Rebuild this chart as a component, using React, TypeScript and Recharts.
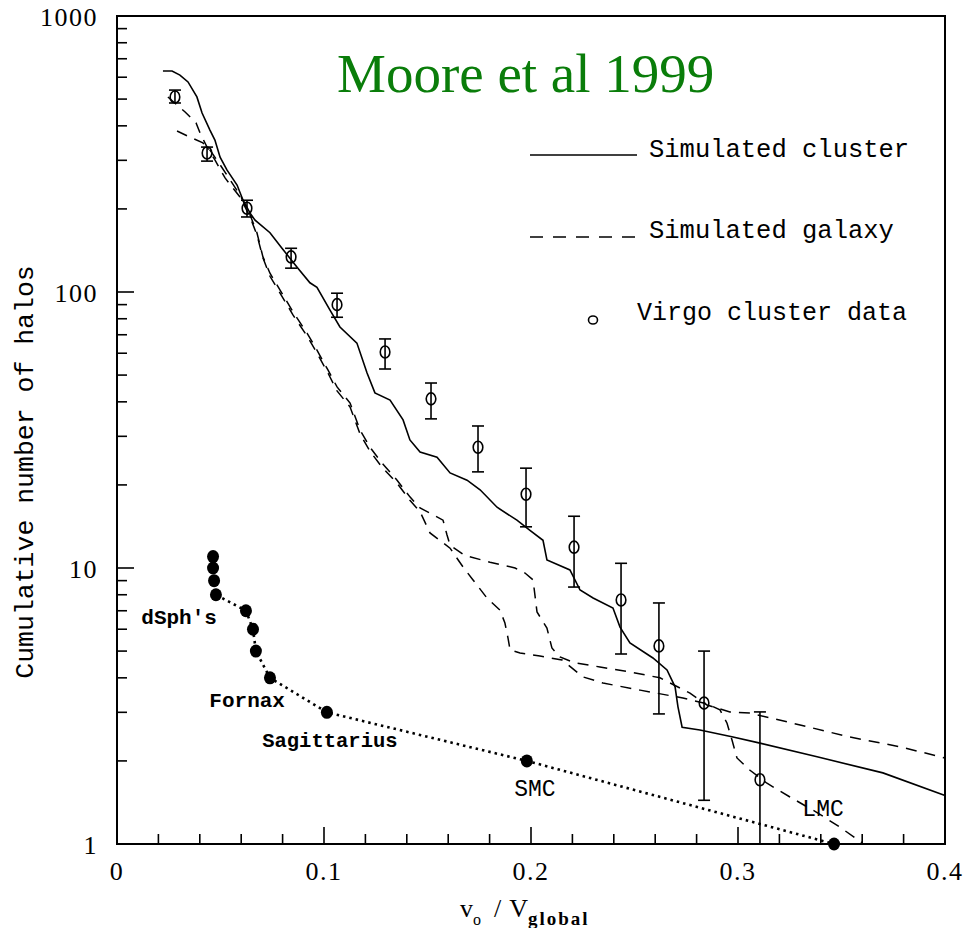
import React from 'react';
import { ComposedChart, Line, Scatter, XAxis, YAxis, ErrorBar, ReferenceArea, LabelList } from 'recharts';

// ---------- data ----------
const clusterX = [
  0.0222, 0.0266, 0.0304, 0.0343, 0.0386, 0.0411, 0.0449, 0.0473, 0.0498, 0.0531,
  0.0580, 0.0609, 0.0643, 0.0667, 0.0739, 0.0797, 0.0870, 0.0932, 0.0966, 0.1029,
  0.1077, 0.1159, 0.1208, 0.1246, 0.1319, 0.1382, 0.1415, 0.1464, 0.1546, 0.1609,
  0.1691, 0.1754, 0.1836, 0.1932, 0.1995, 0.2058, 0.2077, 0.2188, 0.2237, 0.2300,
  0.2396, 0.2430, 0.2478, 0.2589, 0.2657, 0.2696, 0.2710, 0.2730, 0.2816, 0.2976,
  0.3106, 0.3382, 0.3700, 0.4000,
];
const clusterY = [
  632, 632, 611, 577, 509, 445, 386, 355, 308, 277,
  244, 215, 193, 182, 164, 144, 123, 108, 104, 86,
  74.7, 65.3, 50.9, 43.1, 40.6, 34.4, 29.1, 26.3, 25.2, 22.1,
  20.8, 19.2, 16.6, 14.9, 13.7, 12.6, 10.7, 9.84, 8.32, 7.79,
  7.16, 6.11, 5.35, 4.72, 4.27, 3.71, 3.14, 2.65, 2.59, 2.44,
  2.32, 2.07, 1.81, 1.50,
];

const galaxyAX = [
  0.0290, 0.0353, 0.0415, 0.0449, 0.0498, 0.0546, 0.0594, 0.0643, 0.0676, 0.0705,
  0.0739, 0.0802, 0.0850, 0.0918, 0.0966, 0.1019, 0.1063, 0.1126, 0.1174, 0.1222,
  0.1280, 0.1353, 0.1415, 0.1464, 0.1512, 0.1575, 0.1594, 0.1609, 0.1681, 0.1802,
  0.1923, 0.1971, 0.2010, 0.2029, 0.2077, 0.2101, 0.2140, 0.2213, 0.2333, 0.2478,
  0.2623, 0.2768, 0.2850, 0.2961, 0.3058, 0.3300, 0.3541, 0.3783, 0.4000,
];
const galaxyAY = [
  383, 364, 347, 327, 289, 255, 225, 190, 164, 134,
  117, 97.5, 84.7, 71.0, 61.6, 52.2, 45.3, 39.6, 31.6, 27.4,
  24.0, 20.8, 18.1, 16.5, 15.8, 14.9, 13.2, 12.1, 11.1, 10.5,
  10.0, 9.59, 9.05, 6.93, 6.06, 5.13, 4.76, 4.53, 4.38, 4.20,
  4.00, 3.52, 3.19, 3.01, 2.98, 2.70, 2.44, 2.25, 2.05,
];

const galaxyBX = [
  0.0246, 0.0329, 0.0382, 0.0401, 0.0435, 0.0473, 0.0522, 0.0594, 0.0643, 0.0676,
  0.0705, 0.0739, 0.0802, 0.0850, 0.0918, 0.0966, 0.1019, 0.1063, 0.1126, 0.1174,
  0.1222, 0.1280, 0.1353, 0.1415, 0.1464, 0.1512, 0.1609, 0.1671, 0.1720, 0.1787,
  0.1850, 0.1874, 0.1889, 0.1899, 0.1947, 0.2043, 0.2150, 0.2251, 0.2348, 0.2527,
  0.2734, 0.2850, 0.2913, 0.2947, 0.2971, 0.2995, 0.3058, 0.3140, 0.3251, 0.3382,
  0.3493, 0.3600,
];
const galaxyBY = [
  509, 449, 410, 377, 335, 301, 259, 221, 187, 161,
  133, 114, 95.1, 82.6, 69.3, 60.1, 50.9, 43.8, 38.3, 30.6,
  26.5, 23.2, 20.3, 17.6, 16.0, 13.4, 11.8, 10.1, 9.05, 7.79,
  7.04, 6.32, 5.57, 5.05, 4.92, 4.80, 4.64, 4.03, 3.83, 3.61,
  3.38, 3.22, 3.06, 2.74, 2.38, 2.05, 1.85, 1.66, 1.48, 1.30,
  1.15, 1.01,
];

const virgoX = [0.0280, 0.0435, 0.0628, 0.0841, 0.1063, 0.1295, 0.1517, 0.1744, 0.1976, 0.2208, 0.2435, 0.2618, 0.2836, 0.3106];
const virgoY = [509, 319, 201, 134, 90, 60.6, 41, 27.4, 18.5, 11.9, 7.66, 5.22, 3.24, 1.71];
const virgoHigh = [539, 335, 215, 144, 99, 67.6, 46.8, 32.7, 23.0, 15.4, 10.4, 7.47, 5.0, 3.01];
const virgoLow = [484, 298, 187, 122, 81, 52.6, 34.7, 22.3, 14.1, 8.53, 4.88, 2.96, 1.44, 1.0];

const satX = [0.0464, 0.0464, 0.0469, 0.0478, 0.0623, 0.0657, 0.0671, 0.0739, 0.1014, 0.1980, 0.3464];
const satY = [11, 10, 9, 8, 7, 6, 5, 4, 3, 2, 1];
const satNames = ['', '', '', "dSph's", '', '', '', 'Fornax', 'Sagittarius', 'SMC', 'LMC'];

const xTicks = [0, 0.02, 0.04, 0.06, 0.08, 0.1, 0.12, 0.14, 0.16, 0.18, 0.2, 0.22, 0.24, 0.26, 0.28, 0.3, 0.32, 0.34, 0.36, 0.38, 0.4];
const yTicks = [
  1, 2, 3, 4, 5, 6, 7, 8, 9,
  10, 20, 30, 40, 50, 60, 70, 80, 90,
  100, 200, 300, 400, 500, 600, 700, 800, 900, 1000,
];

const legendLabels = ['Simulated cluster', 'Simulated galaxy', 'Virgo cluster data'];
const titleText = 'Moore et al 1999';

// ---------- build series ----------
const zipXY = (xs: number[], ys: number[]) =>
  xs.slice(0, Math.min(xs.length, ys.length)).map((x, i) => ({ x, y: ys[i] }));

const clusterData = zipXY(clusterX, clusterY);
const galaxyAData = zipXY(galaxyAX, galaxyAY);
const galaxyBData = zipXY(galaxyBX, galaxyBY);
const virgoData = virgoX.map((x, i) => ({
  x,
  y: virgoY[i],
  err: [virgoY[i] - virgoLow[i], virgoHigh[i] - virgoY[i]],
}));
const satData = satX.map((x, i) => ({ x, y: satY[i], name: satNames[i] }));

// ---------- styling ----------
const W = 969;
const H = 928;
const MAJOR = 17;
const MINOR = 10;
const TICK_FONT = '"Liberation Serif", "Times New Roman", serif';
const MONO = '"Liberation Mono", "DejaVu Sans Mono", monospace';

const isMajorX = (v: number) => Math.abs(v * 10 - Math.round(v * 10)) < 1e-6;
const isMajorY = (v: number) => Math.abs(Math.log10(v) - Math.round(Math.log10(v))) < 1e-6;
const fmtX = (v: number) => (Math.abs(v) < 1e-9 ? '0' : String(Math.round(v * 10) / 10));

const BottomTick = (props: any) => {
  const { x, y, payload } = props;
  const major = isMajorX(payload.value);
  const len = major ? MAJOR : MINOR;
  return (
    <g>
      <line x1={x} x2={x} y1={y} y2={y - len} stroke="#000" strokeWidth={1.6} />
      {major && (
        <text x={x} y={y + 36} textAnchor="middle" fontFamily={TICK_FONT} fontSize={26} fill="#000" letterSpacing={1.5}>
          {fmtX(payload.value)}
        </text>
      )}
    </g>
  );
};
const TopTick = (props: any) => {
  const { x, y, payload } = props;
  const len = isMajorX(payload.value) ? MAJOR : MINOR;
  return <line x1={x} x2={x} y1={y} y2={y + len} stroke="#000" strokeWidth={1.6} />;
};
const LeftTick = (props: any) => {
  const { x, y, payload } = props;
  const major = isMajorY(payload.value);
  const len = major ? MAJOR : MINOR;
  return (
    <g>
      <line x1={x} x2={x + len} y1={y} y2={y} stroke="#000" strokeWidth={1.6} />
      {major && (
        <text x={x - 19} y={y + 10} textAnchor="end" fontFamily={TICK_FONT} fontSize={26} fill="#000" letterSpacing={1.5}>
          {String(payload.value)}
        </text>
      )}
    </g>
  );
};
const RightTick = (props: any) => {
  const { x, y, payload } = props;
  const len = isMajorY(payload.value) ? MAJOR : MINOR;
  return <line x1={x} x2={x - len} y1={y} y2={y} stroke="#000" strokeWidth={1.6} />;
};

const XLabel = (props: any) => {
  const vb = props.viewBox || {};
  const cx = (vb.x ?? 117) + (vb.width ?? 828) / 2;
  const top = vb.y ?? 844;
  return (
    <text x={cx - 71} y={top + 73} fontFamily={TICK_FONT} fontSize={26} fill="#000">
      <tspan>v</tspan>
      <tspan fontSize={16} dy={8}>o</tspan>
      <tspan dx={13} dy={-8}>/</tspan>
      <tspan dx={8}>V</tspan>
      <tspan fontSize={19} fontWeight="bold" letterSpacing={2} dy={8}>global</tspan>
    </text>
  );
};

const YLabel = (props: any) => {
  const vb = props.viewBox || {};
  const cy = (vb.y ?? 16) + (vb.height ?? 828) / 2 + 42;
  const x = 33;
  return (
    <text
      x={x}
      y={cy}
      transform={`rotate(-90, ${x}, ${cy})`}
      textAnchor="middle"
      fontFamily={MONO}
      fontSize={26.5}
      fill="#000"
    >
      Cumulative number of halos
    </text>
  );
};

const satLabelStyle: Record<string, { dx: number; dy: number; anchor: string; size: number; weight: string }> = {
  "dSph's": { dx: 1, dy: 29, anchor: 'end', size: 21, weight: 'bold' },
  Fornax: { dx: 15, dy: 29, anchor: 'end', size: 21, weight: 'bold' },
  Sagittarius: { dx: 3, dy: 35, anchor: 'middle', size: 20.5, weight: 'bold' },
  SMC: { dx: 8, dy: 35, anchor: 'middle', size: 23, weight: 'normal' },
  LMC: { dx: -11, dy: -28, anchor: 'middle', size: 23, weight: 'normal' },
};

const SatLabel = (props: any) => {
  const value = props.value;
  if (!value) return null;
  const st = satLabelStyle[value];
  if (!st) return null;
  const px = props.x ?? props.viewBox?.x;
  const py = props.y ?? props.viewBox?.y;
  return (
    <text
      x={px + st.dx}
      y={py + st.dy}
      textAnchor={st.anchor as any}
      fontFamily={MONO}
      fontSize={st.size}
      fontWeight={st.weight}
      fill="#000"
    >
      {value}
    </text>
  );
};

const SatDot = (props: any) => {
  const { cx, cy, index } = props;
  if (cx == null || cy == null) return <g key={`sd-${index}`} />;
  return <ellipse key={`sd-${index}`} cx={cx} cy={cy} rx={6} ry={6.5} fill="#000" />;
};

const VirgoShape = (props: any) => {
  const { cx, cy } = props;
  if (cx == null || cy == null) return <g />;
  return <ellipse cx={cx} cy={cy} rx={4.8} ry={6} fill="none" stroke="#000" strokeWidth={1.6} />;
};

const Overlay = () => (
  <svg
    width={W}
    height={H}
    style={{ position: 'absolute', left: 0, top: 0, pointerEvents: 'none' }}
  >
    <text x={337} y={92} fontFamily={TICK_FONT} fontSize={55} fill="#0a7d0a">
      {titleText}
    </text>
    <line x1={530} x2={637} y1={155} y2={155} stroke="#000" strokeWidth={1.6} />
    <text x={649} y={157} fontFamily={MONO} fontSize={25.5} fill="#000">
      {legendLabels[0]}
    </text>
    <line x1={530} x2={637} y1={237} y2={237} stroke="#000" strokeWidth={1.6} strokeDasharray="13 10" />
    <text x={649} y={238} fontFamily={MONO} fontSize={25.5} fill="#000">
      {legendLabels[1]}
    </text>
    <ellipse cx={593} cy={320} rx={4.5} ry={4} fill="none" stroke="#000" strokeWidth={1.6} />
    <text x={637} y={320} fontFamily={MONO} fontSize={25} fill="#000">
      {legendLabels[2]}
    </text>
  </svg>
);

export default function App() {
  return (
    <div style={{ position: 'fixed', left: 0, top: 0, width: W, height: H, background: '#fff', overflow: 'hidden' }}>
      <style>{'html,body{margin:0;padding:0;overflow:hidden;background:#fff;}'}</style>
      <ComposedChart
        width={W}
        height={H}
        margin={{ top: 16, right: 24, bottom: 0, left: 0 }}
        style={{ background: '#fff' }}
      >
        <XAxis
          dataKey="x"
          type="number"
          domain={[0, 0.4]}
          ticks={xTicks}
          interval={0}
          height={84}
          axisLine={false}
          tickLine={false}
          tickSize={0}
          tickMargin={0}
          tick={<BottomTick />}
          label={<XLabel />}
        />
        <XAxis
          xAxisId="top"
          orientation="top"
          dataKey="x"
          type="number"
          domain={[0, 0.4]}
          ticks={xTicks}
          interval={0}
          height={0}
          axisLine={false}
          tickLine={false}
          tickSize={0}
          tickMargin={0}
          tick={<TopTick />}
        />
        <YAxis
          dataKey="y"
          type="number"
          scale="log"
          domain={[1, 1000]}
          ticks={yTicks}
          interval={0}
          width={117}
          axisLine={false}
          tickLine={false}
          tickSize={0}
          tickMargin={0}
          tick={<LeftTick />}
          label={<YLabel />}
        />
        <YAxis
          yAxisId="right"
          orientation="right"
          dataKey="y"
          type="number"
          scale="log"
          domain={[1, 1000]}
          ticks={yTicks}
          interval={0}
          width={0}
          axisLine={false}
          tickLine={false}
          tickSize={0}
          tickMargin={0}
          tick={<RightTick />}
        />
        <ReferenceArea x1={0} x2={0.4} y1={1} y2={1000} fill="none" stroke="#000" strokeWidth={2} ifOverflow="visible" />

        <Line
          data={clusterData}
          dataKey="y"
          type="linear"
          stroke="#000"
          strokeWidth={1.6}
          dot={false}
          activeDot={false}
          isAnimationActive={false}
        />
        <Line
          data={galaxyAData}
          dataKey="y"
          type="linear"
          stroke="#000"
          strokeWidth={1.5}
          strokeDasharray="11 8"
          dot={false}
          activeDot={false}
          isAnimationActive={false}
        />
        <Line
          data={galaxyBData}
          dataKey="y"
          type="linear"
          stroke="#000"
          strokeWidth={1.5}
          strokeDasharray="11 8"
          dot={false}
          activeDot={false}
          isAnimationActive={false}
        />
        <Scatter data={virgoData} dataKey="y" shape={<VirgoShape />} isAnimationActive={false}>
          <ErrorBar dataKey="err" direction="y" width={6} stroke="#000" strokeWidth={1.6} />
        </Scatter>
        <Line
          data={satData}
          dataKey="y"
          type="linear"
          stroke="#000"
          strokeWidth={2.6}
          strokeDasharray="2.5 4"
          dot={<SatDot />}
          activeDot={false}
          isAnimationActive={false}
        >
          <LabelList dataKey="name" content={<SatLabel />} />
        </Line>
      </ComposedChart>
      <Overlay />
    </div>
  );
}
